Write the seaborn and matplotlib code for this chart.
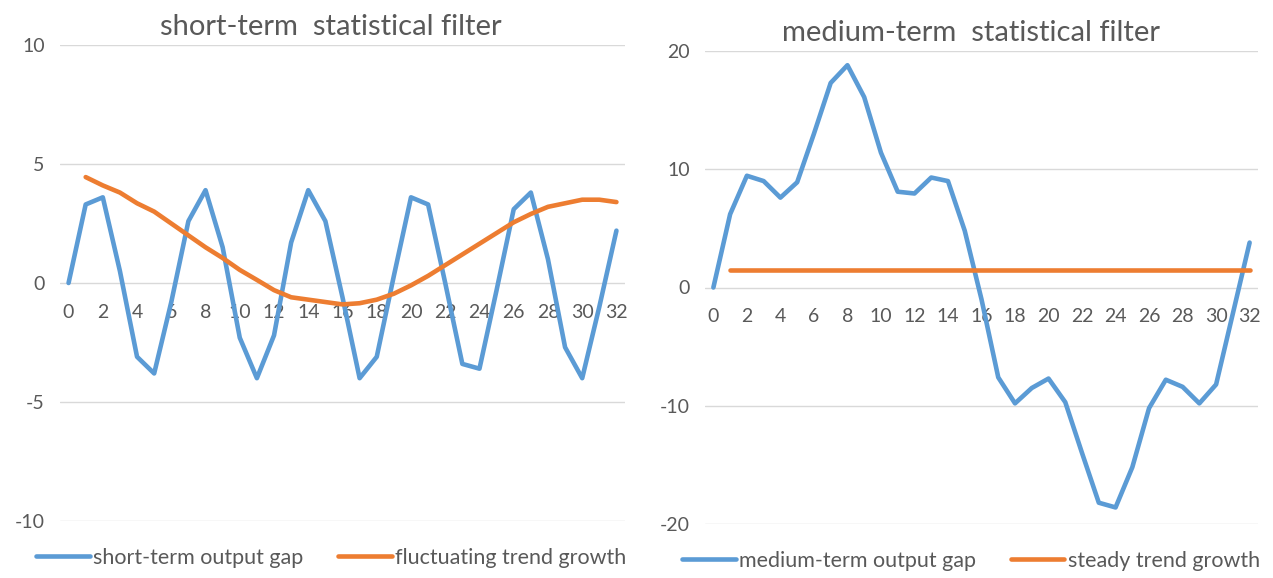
import matplotlib
matplotlib.use("Agg")
import matplotlib.pyplot as plt
import pandas as pd
import seaborn as sns

# données
periodes = list(range(33))

ecart_court = [0, 3.3, 3.6, 0.5, -3.1, -3.8, -0.8, 2.6, 3.9, 1.5, -2.3, -4.0,
               -2.2, 1.7, 3.9, 2.6, -0.6, -4.0, -3.1, 0.3, 3.6, 3.3, 0.0, -3.4,
               -3.6, -0.3, 3.1, 3.8, 1.0, -2.7, -4.0, -1.0, 2.2]
tendance_fluct = [None, 4.45, 4.1, 3.8, 3.35, 3.0, 2.5, 2.0, 1.5, 1.05, 0.55,
                  0.13, -0.3, -0.6, -0.7, -0.8, -0.9, -0.85, -0.7, -0.45, -0.1,
                  0.3, 0.75, 1.2, 1.65, 2.1, 2.55, 2.9, 3.2, 3.35, 3.5, 3.5, 3.4]

ecart_moyen = [0, 6.2, 9.45, 9.0, 7.6, 8.9, 13.0, 17.3, 18.8, 16.1, 11.4, 8.1,
               7.95, 9.3, 9.0, 4.8, -1.0, -7.6, -9.8, -8.5, -7.7, -9.7, -14.0,
               -18.2, -18.6, -15.2, -10.2, -7.8, -8.4, -9.8, -8.2, -2.2, 3.8]
tendance_stable = [None] + [1.5] * 32

titres = ["short-term  statistical filter", "medium-term  statistical filter"]
noms_gauche = ["short-term output gap", "fluctuating trend growth"]
noms_droite = ["medium-term output gap", "steady trend growth"]
yticks_gauche = [-10, -5, 0, 5, 10]
yticks_droite = [-20, -10, 0, 10, 20]

BLEU, ORANGE, GRIS = "#5B9BD5", "#ED7D31", "#595959"

sns.set_theme(style="white")
plt.rcParams["font.family"] = ["Lato", "DejaVu Sans"]
plt.rcParams["axes.unicode_minus"] = False

W, H = 1273, 578
fig = plt.figure(figsize=(W / 100, H / 100), dpi=100)


def panneau(rect, serie1, serie2, noms, yticks, titre, centre):
    larg, haut = rect[2] - rect[0], rect[3] - rect[1]
    ax = fig.add_axes([rect[0] / W, 1 - rect[3] / H, larg / W, haut / H])
    df = pd.DataFrame({"x": periodes * 2,
                       "y": serie1 + serie2,
                       "serie": [noms[0]] * 33 + [noms[1]] * 33}).dropna()
    sns.lineplot(data=df, x="x", y="y", hue="serie",
                 palette=[BLEU, ORANGE], linewidth=3.3, ax=ax)
    ax.set_xlim(-0.5, 32.5)
    ax.set_ylim(yticks[0], yticks[-1])
    ax.set_yticks(yticks)
    ax.set_xticks(range(0, 33, 2))
    ax.grid(axis="y", color="#d9d9d9", linewidth=1)
    ax.set_axisbelow(True)
    for s in ["top", "right", "left"]:
        ax.spines[s].set_visible(False)
    # étiquettes de l'axe x sur la ligne zéro
    ax.spines["bottom"].set_position(("data", 0))
    ax.spines["bottom"].set_visible(False)
    ax.tick_params(axis="both", length=0, labelsize=14, labelcolor=GRIS)
    ax.tick_params(axis="x", pad=15)
    ax.tick_params(axis="y", pad=11)
    ax.set_xlabel(""); ax.set_ylabel("")
    cx = (centre - rect[0]) / larg
    ax.set_title(titre, fontsize=21, color=GRIS, pad=7, x=cx)
    ax.legend(loc="center", bbox_to_anchor=(cx, -37 / haut),
              ncol=2, frameon=False, fontsize=15.5, labelcolor=GRIS,
              handlelength=2.5, handletextpad=0.15, columnspacing=1.6)
    return ax


panneau((60, 45, 625, 521), ecart_court, tendance_fluct, noms_gauche,
        yticks_gauche, titres[0], 331)
panneau((705, 51, 1258, 524), ecart_moyen, tendance_stable, noms_droite,
        yticks_droite, titres[1], 971)

fig.savefig("out.png", dpi=100)
